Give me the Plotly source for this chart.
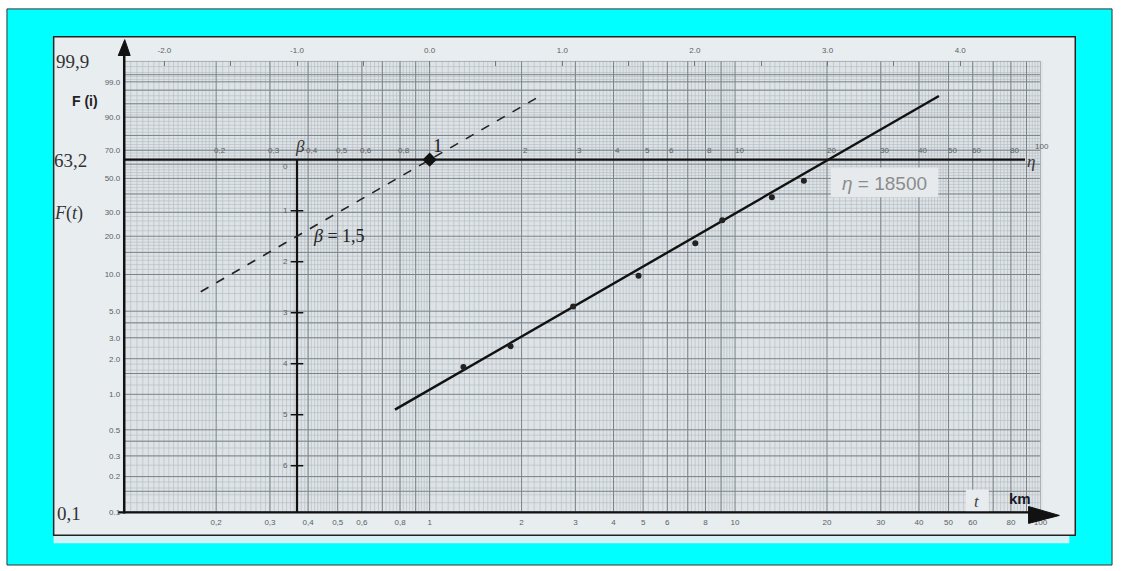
import numpy as np
import plotly.graph_objects as go

# ---------------- data ----------------
t_data = [1.29, 1.84, 2.95, 4.83, 7.41, 9.08, 13.2, 16.8]        # km x1000
F_data = [1.70, 2.55, 5.47, 9.76, 17.7, 26.3, 38.0, 48.5]        # %
beta_est = 1.5
eta_drawn = 20.2          # where the drawn fit line crosses 63.2 %
fit_t = [0.77, 46.5]      # extent of the solid fitted line
ref_t = [0.178, 2.32]     # extent of the dashed slope-reference line (through t=1)

F_ticks = [0.1, 0.2, 0.3, 0.5, 1, 2, 3, 5, 10, 20, 30, 50, 70, 90, 99]
F_tick_text = ["0.1", "0.2", "0.3", "0.5", "1.0", "2.0", "3.0", "5.0", "10.0",
               "20.0", "30.0", "50.0", "70.0", "90.0", "99.0"]
x_ticks = [0.2, 0.3, 0.4, 0.5, 0.6, 0.8, 1, 2, 3, 4, 5, 6, 8, 10, 20, 30, 40, 50, 60, 80, 100]
x_tick_text = ["0,2", "0,3", "0,4", "0,5", "0,6", "0,8", "1", "2", "3", "4", "5", "6", "8",
               "10", "20", "30", "40", "50", "60", "80", "100"]
lnt_ticks = [-2.0, -1.5, -1.0, -0.5, 0.0, 0.5, 1.0, 1.5, 2.0, 2.5, 3.0, 3.5, 4.0]
lnt_text = ["-2.0", "", "-1.0", "", "0.0", "", "1.0", "", "2.0", "", "3.0", "", "4.0"]
eta_ticks = [0.2, 0.3, 0.4, 0.5, 0.6, 0.8, 2, 3, 4, 5, 6, 8, 10, 20, 30, 40, 50, 60, 80]
eta_text = ["0,2", "0,3", "0,4", "0,5", "0,6", "0,8", "2", "3", "4", "5", "6", "8",
            "10", "20", "30", "40", "50", "60", "80"]
beta_ticks = [0, 1, 2, 3, 4, 5, 6]


def ww(Fpct):
    return np.log(-np.log(1 - np.asarray(Fpct, dtype=float) / 100.0))


W, H = 1126, 571
def px(x): return x / W
def py(y): return 1 - y / H

ymin, ymax = float(ww(0.1)), float(ww(99.9))
xaxis_dom = [125 / W, 1047 / W]
yaxis_dom = [1 - 516.5 / H, 1 - 61.7 / H]

fig = go.Figure()

# ---------------- probability-paper grid ----------------
def vlines(vals):
    xs, ys = [], []
    for v in vals:
        xs += [v, v, None]; ys += [ymin, ymax, None]
    return xs, ys

def hlines(vals):
    xs, ys = [], []
    for v in vals:
        xs += [0.1, 100, None]; ys += [v, v, None]
    return xs, ys

minor_x, major_x = [], []
for d in [0.1, 1, 10]:
    for m in np.r_[np.arange(1.05, 2.0, 0.05), np.arange(2.1, 5.0, 0.1), np.arange(5.2, 10.0, 0.2)]:
        minor_x.append(m * d)
    for m in range(1, 10):
        major_x.append(m * d)
major_x.append(100)

minor_F = list(np.r_[np.arange(0.12, 0.2, 0.02), np.arange(0.25, 0.5, 0.05), np.arange(0.6, 1.0, 0.1),
                     np.arange(1.2, 2.0, 0.2), np.arange(2.5, 5.0, 0.5), np.arange(6, 10, 1),
                     np.arange(11, 20, 1), np.arange(22, 50, 2), np.arange(52, 90, 2),
                     np.arange(91, 99, 1), [99.2, 99.4, 99.6, 99.8]])
major_F = [0.1, 0.15, 0.2, 0.3, 0.4, 0.5, 1, 1.5, 2, 3, 4, 5, 10, 15, 20, 30, 40, 50,
           60, 70, 80, 90, 95, 98, 99, 99.5, 99.9]

gx, gy = vlines(minor_x)
fig.add_trace(go.Scatter(x=gx, y=gy, mode="lines", line=dict(color="#b3bbc0", width=0.6),
                         hoverinfo="skip", showlegend=False))
gx, gy = hlines(list(ww(minor_F)))
fig.add_trace(go.Scatter(x=gx, y=gy, mode="lines", line=dict(color="#b3bbc0", width=0.6),
                         hoverinfo="skip", showlegend=False))
gx, gy = vlines(major_x)
fig.add_trace(go.Scatter(x=gx, y=gy, mode="lines", line=dict(color="#7b8389", width=1),
                         hoverinfo="skip", showlegend=False))
gx, gy = hlines(list(ww(major_F)))
fig.add_trace(go.Scatter(x=gx, y=gy, mode="lines", line=dict(color="#7b8389", width=1),
                         hoverinfo="skip", showlegend=False))

# ---------------- construction lines ----------------
t_beta = float(np.exp(-1))
fig.add_trace(go.Scatter(x=[0.1, 89], y=[0, 0], mode="lines",
                         line=dict(color="#111", width=2.2), hoverinfo="skip", showlegend=False))
fig.add_trace(go.Scatter(x=[t_beta, t_beta], y=[0, ymin], mode="lines",
                         line=dict(color="#111", width=2.2), hoverinfo="skip", showlegend=False))
fig.add_trace(go.Scatter(x=[t_beta] * (len(beta_ticks) - 1), y=[-b for b in beta_ticks[1:]],
                         mode="markers", marker=dict(symbol="line-ew-open", size=9, color="#111",
                                                     line=dict(color="#111", width=1.5)),
                         hoverinfo="skip", showlegend=False))

ref_y = [beta_est * np.log(t) for t in ref_t]
fig.add_trace(go.Scatter(x=ref_t, y=ref_y, mode="lines",
                         line=dict(color="#222", width=1.6, dash="dash"),
                         hoverinfo="skip", showlegend=False))
fit_y = [beta_est * (np.log(t) - np.log(eta_drawn)) for t in fit_t]
fig.add_trace(go.Scatter(x=fit_t, y=fit_y, mode="lines",
                         line=dict(color="#111", width=2.4), hoverinfo="skip", showlegend=False))

fig.add_trace(go.Scatter(x=t_data, y=list(ww(F_data)), mode="markers",
                         marker=dict(symbol="circle", size=6, color="#222"),
                         showlegend=False))
fig.add_trace(go.Scatter(x=[1], y=[0], mode="markers",
                         marker=dict(symbol="diamond", size=11, color="#111"),
                         showlegend=False))

# invisible trace for top ln(t) axis
fig.add_trace(go.Scatter(x=[0], y=[0], xaxis="x2", mode="markers",
                         marker=dict(opacity=0), hoverinfo="skip", showlegend=False))

# ---------------- annotations ----------------
ann = []
serif = "Liberation Serif"
sans = "Liberation Sans"
tick_font = dict(family=sans, size=8, color="#5a5f63")

def ptext(x, y, text, size, color="#333", family=serif, xanchor="center"):
    ann.append(dict(x=px(x), y=py(y), xref="paper", yref="paper", text=text, showarrow=False,
                    font=dict(family=family, size=size, color=color), xanchor=xanchor,
                    yanchor="middle"))

ptext(54, 62, "99,9", 19, xanchor="left")
ptext(70, 102, "<b>F (i)</b>", 14, color="#222", family=sans, xanchor="left")
ptext(52, 162, "63,2", 19, xanchor="left")
ptext(52, 215, "<i>F</i>(<i>t</i>)", 18, xanchor="left")
ptext(55, 518, "0,1", 19, xanchor="left")

for t, s in zip(eta_ticks, eta_text):
    ann.append(dict(x=np.log10(t), y=0, xref="x", yref="y", text=s, showarrow=False,
                    xshift=4, yshift=9, font=tick_font))
ann.append(dict(x=2, y=0, xref="x", yref="y", text="100", showarrow=False,
                xshift=2, yshift=13, font=tick_font))
ann.append(dict(x=2, y=0, xref="x", yref="y", text="<i>η</i>", showarrow=False,
                xshift=-9, yshift=-2, font=dict(family=serif, size=17, color="#333")))

for b in beta_ticks:
    ann.append(dict(x=np.log10(t_beta), y=-b, xref="x", yref="y", text=str(b), showarrow=False,
                    xshift=-12, yshift=(-7 if b == 0 else 0), font=tick_font))
ann.append(dict(x=np.log10(t_beta), y=0, xref="x", yref="y", text="<i>β</i>", showarrow=False,
                xshift=3, yshift=13, font=dict(family=serif, size=17, color="#333")))

ann.append(dict(x=0, y=0, xref="x", yref="y", text="1", showarrow=False,
                xshift=8, yshift=14, font=dict(family=serif, size=19, color="#222")))
ann.append(dict(x=np.log10(t_beta), y=-1.5, xref="x", yref="y", text="<i>β</i> = 1,5",
                showarrow=False, xanchor="left", xshift=14, font=dict(family=serif, size=18, color="#222")))

ptext(890, 185, "<i>η</i> = 18500", 19, color="#8c8c8c", family=sans)
ptext(983, 506, "<i>t</i>", 17, color="#444", family=serif)
ptext(1026, 503, "<b>km</b>", 15, color="#1a1a2a", family=sans)

# ---------------- shapes (frame, paper, arrows) ----------------
shapes = [
    dict(type="rect", xref="paper", yref="paper", x0=px(7), x1=px(1119), y0=py(570), y1=py(9),
         fillcolor="#00ffff", line=dict(color="#333", width=1), layer="below"),
    dict(type="rect", xref="paper", yref="paper", x0=px(54), x1=px(1076), y0=py(548), y1=py(540),
         fillcolor="#d4f1f6", line=dict(width=0), layer="below"),
    dict(type="rect", xref="paper", yref="paper", x0=px(54), x1=px(1082), y0=py(540), y1=py(37),
         fillcolor="#e8edf0", line=dict(color="#222", width=1.5), layer="below"),
    dict(type="rect", xref="paper", yref="paper", x0=px(125), x1=px(1049), y0=py(516.5), y1=py(61),
         fillcolor="#dde3e6", line=dict(width=0), layer="below"),
    dict(type="rect", xref="paper", yref="paper", x0=px(836), x1=px(944), y0=py(199), y1=py(169),
         fillcolor="#e6eaec", line=dict(width=0), layer="above"),
    dict(type="rect", xref="paper", yref="paper", x0=px(972), x1=px(995), y0=py(518), y1=py(494),
         fillcolor="#e8ecee", line=dict(width=0), layer="above"),
    dict(type="line", xref="paper", yref="paper", x0=px(125), x1=px(125), y0=py(518), y1=py(52),
         line=dict(color="#111", width=2.5)),
    dict(type="line", xref="paper", yref="paper", x0=px(119), x1=px(1045), y0=py(517), y1=py(517),
         line=dict(color="#111", width=2.2)),
    dict(type="path", xref="paper", yref="paper",
         path=f"M {px(119)} {py(56)} L {px(131)} {py(56)} L {px(125.5)} {py(40)} Z",
         fillcolor="#111", line=dict(color="#111", width=1)),
    dict(type="path", xref="paper", yref="paper",
         path=f"M {px(1035)} {py(511)} L {px(1066)} {py(520)} L {px(1035)} {py(528)} Z",
         fillcolor="#111", line=dict(color="#111", width=1)),
]

fig.update_layout(
    width=W, height=H, autosize=False,
    margin=dict(l=0, r=0, t=0, b=0),
    paper_bgcolor="#ffffff", plot_bgcolor="rgba(0,0,0,0)",
    showlegend=False,
    annotations=ann, shapes=shapes,
    xaxis=dict(type="log", range=[-1, 2], domain=xaxis_dom, showgrid=False, zeroline=False,
               tickvals=x_ticks, ticktext=x_tick_text, ticks="", ticklabelstandoff=4,
               tickfont=tick_font, showline=False, anchor="y"),
    xaxis2=dict(range=[np.log(0.1), np.log(100)], domain=xaxis_dom, overlaying="x", side="top",
                anchor="y", showgrid=False, zeroline=False, tickvals=lnt_ticks, ticktext=lnt_text,
                ticks="inside", ticklen=5, tickcolor="#777", ticklabelstandoff=6,
                tickfont=tick_font, showline=False),
    yaxis=dict(range=[ymin, ymax], domain=yaxis_dom, showgrid=False, zeroline=False,
               tickvals=list(ww(F_ticks)), ticktext=F_tick_text, ticks="", ticklabelstandoff=3,
               tickfont=tick_font, showline=False),
)

fig.write_html("out.html")
